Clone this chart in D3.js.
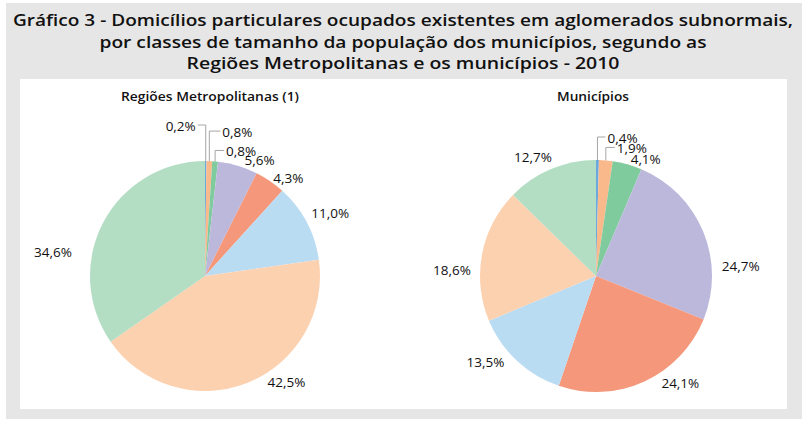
<!DOCTYPE html>
<html><head><meta charset="utf-8">
<script src="https://cdn.jsdelivr.net/npm/d3@7"></script>
<style>html,body{margin:0;padding:0;background:#fff}</style>
</head><body>
<svg id="chart" width="810" height="423"></svg>
<script>
// ---- data ----
const titleLines = [
  "Gráfico 3 - Domicílios particulares ocupados existentes em aglomerados subnormais,",
  "por classes de tamanho da população dos municípios, segundo as",
  "Regiões Metropolitanas e os municípios - 2010"
];
const classes = ["Classe 1","Classe 2","Classe 3","Classe 4","Classe 5","Classe 6","Classe 7","Classe 8"];
const rmTitle = "Regiões Metropolitanas (1)";
const rmValues = [0.2, 0.8, 0.8, 5.6, 4.3, 11.0, 42.5, 34.6];
const munTitle = "Municípios";
const munValues = [0.4, 1.9, 4.1, 24.7, 24.1, 13.5, 18.6, 12.7];

// ---- styling / layout ----
const colors = ["#6aa8de","#fab98a","#80cb9e","#bcb8dc","#f4977a","#badcf3","#fcd1b0","#b3dec3"];
const rmLayout = [
  {leader:[-8,36]},{leader:[11,30]},{leader:[9,11]},
  {dx:16,dy:14},{dx:7,dy:14.3},{dx:6,dy:1.3},{dx:32,dy:-18.6},{dx:-32.4,dy:39.5}
];
const munLayout = [
  {leader:[8,23]},{leader:[9,13]},
  {dx:13,dy:15},{dx:19,dy:42.7},{dx:27.6,dy:-15.6},{dx:-17.7,dy:-12.7},{dx:-10.4,dy:20.5},{dx:-10.2,dy:7.3}
];

const svg = d3.select("#chart");
svg.append("rect").attr("x",6).attr("y",3).attr("width",796).attr("height",416).attr("fill","#e6e6e6");
svg.append("rect").attr("x",20).attr("y",79).attr("width",767).attr("height",330).attr("fill","#ffffff");

const titleFont = "'Open Sans', sans-serif";
const tl = [{w:780,y:26},{w:607,y:48},{w:433,y:69}];
titleLines.forEach((t,i)=>{
  svg.append("text").attr("x",403).attr("y",tl[i].y)
    .attr("text-anchor","middle").attr("font-family",titleFont)
    .attr("font-weight",600).attr("font-size",17).attr("fill","#111")
    .attr("textLength",tl[i].w).attr("lengthAdjust","spacingAndGlyphs")
    .text(t);
});

const fmt = v => d3.format(".1f")(v).replace(".",",") + "%";
const pie = d3.pie().sort(null).value(d=>d);
const labelSize = 13.5;

function drawPie(values, layout, cx, cy, r, title, titleX, titleW){
  const g = svg.append("g");
  g.append("text").attr("x",titleX).attr("y",101).attr("text-anchor","middle")
    .attr("font-family",titleFont).attr("font-weight",600).attr("font-size",13)
    .attr("fill","#111").attr("textLength",titleW).attr("lengthAdjust","spacingAndGlyphs")
    .text(title);
  const arcs = pie(values);
  const arc = d3.arc().innerRadius(0).outerRadius(r);
  const pg = g.append("g").attr("transform",`translate(${cx},${cy})`);
  pg.selectAll("path").data(arcs).join("path")
    .attr("d",arc).attr("fill",(d,i)=>colors[i]);
  const R = r + 20;
  arcs.forEach((d,i)=>{
    const a = (d.startAngle + d.endAngle)/2;
    const L = layout[i];
    if (L.leader){
      const px = cx + r*Math.sin(a), py = cy - r*Math.cos(a);
      const [hx, rise] = L.leader;
      const ey = py - rise, ex = px + hx;
      g.append("polyline")
        .attr("points",`${px},${py} ${px},${ey} ${ex},${ey}`)
        .attr("fill","none").attr("stroke","#a6a6a6").attr("stroke-width",1);
      g.append("text")
        .attr("x", hx < 0 ? ex - 2 : ex + 2).attr("y", ey + 5.5)
        .attr("text-anchor", hx < 0 ? "end" : "start")
        .attr("font-family","'Open Sans', sans-serif").attr("font-size",labelSize).attr("fill","#111")
        .text(fmt(d.data));
    } else {
      const px = cx + R*Math.sin(a) + L.dx, py = cy - R*Math.cos(a) + 4 + L.dy;
      g.append("text").attr("x",px).attr("y",py).attr("text-anchor","middle")
        .attr("font-family","'Open Sans', sans-serif").attr("font-size",labelSize).attr("fill","#111")
        .text(fmt(d.data));
    }
  });
}
drawPie(rmValues, rmLayout, 205, 276, 115, rmTitle, 210, 178);
drawPie(munValues, munLayout, 596, 276, 116, munTitle, 593, 72);
</script>
</body></html>
